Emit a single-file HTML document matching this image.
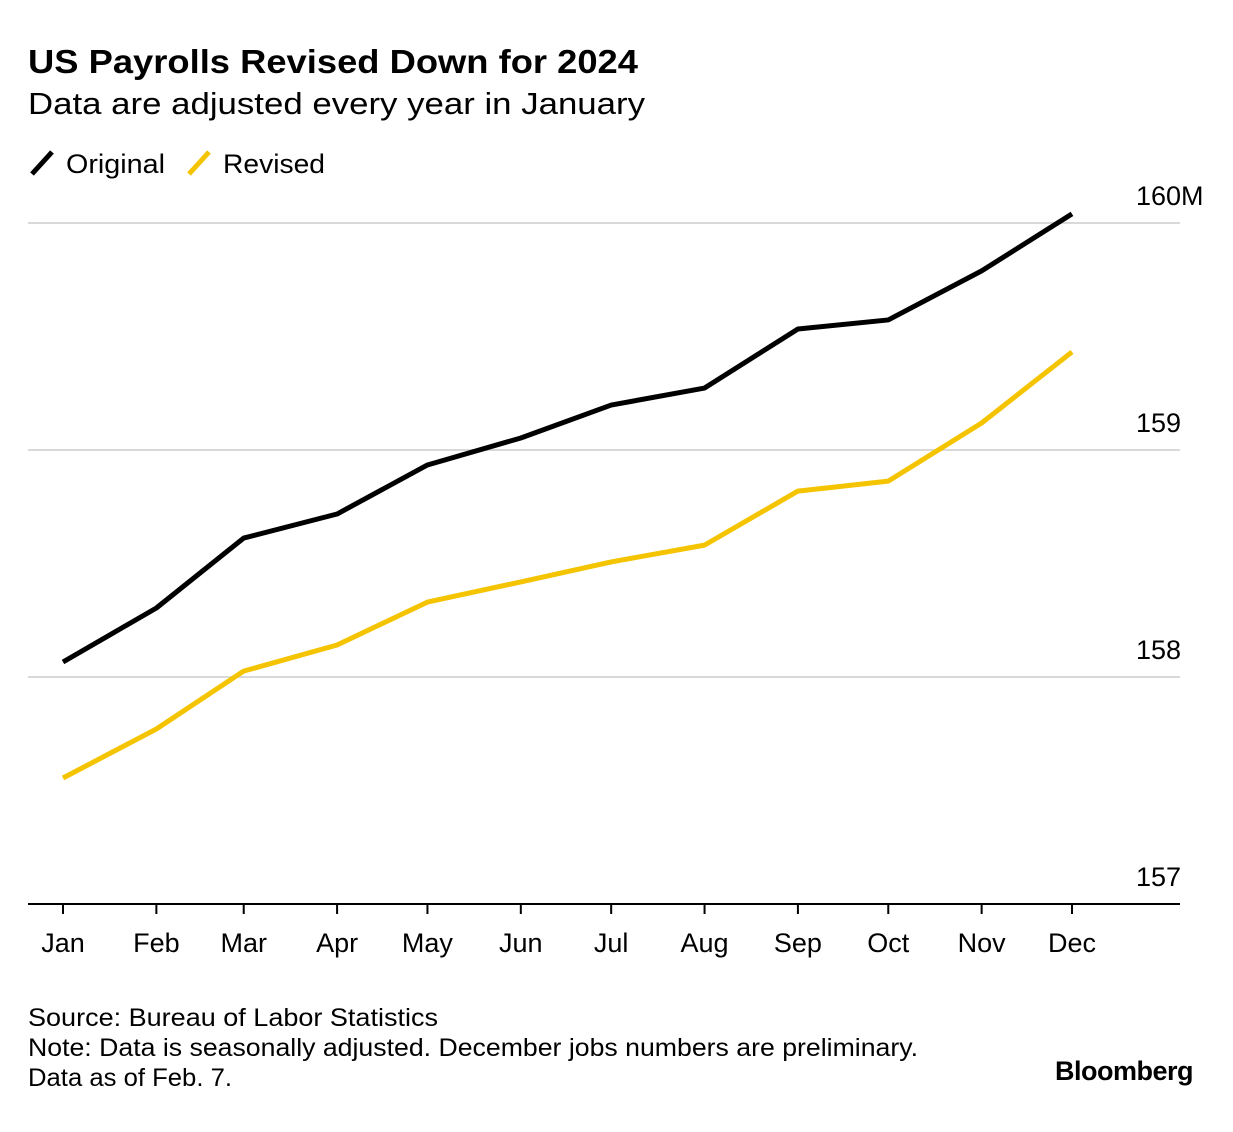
<!DOCTYPE html>
<html><head><meta charset="utf-8">
<style>
body{margin:0;background:#fff;width:1233px;height:1132px;overflow:hidden;font-family:"Liberation Sans",Arial,sans-serif;}
svg{position:absolute;left:0;top:0}
</style></head>
<body>
<svg id="chart" width="1233" height="1132">
<text x="28" y="73" font-size="33" font-weight="bold" fill="#000" textLength="610" lengthAdjust="spacingAndGlyphs">US Payrolls Revised Down for 2024</text>
<text x="28" y="114" font-size="31" fill="#000" textLength="617" lengthAdjust="spacingAndGlyphs">Data are adjusted every year in January</text>
<g>
<line x1="32" y1="174" x2="52" y2="152" stroke="#000" stroke-width="5"/>
<text x="66" y="173" font-size="27" textLength="99" lengthAdjust="spacingAndGlyphs">Original</text>
<line x1="189" y1="174" x2="209" y2="152" stroke="#f5c400" stroke-width="5"/>
<text x="223" y="173" font-size="27" textLength="102" lengthAdjust="spacingAndGlyphs">Revised</text>
</g>
<g id="grid"></g><g id="axis"></g><g id="lines"></g>
<text x="28" y="1026" font-size="25" textLength="410" lengthAdjust="spacingAndGlyphs">Source: Bureau of Labor Statistics</text>
<text x="28" y="1056" font-size="25" textLength="890" lengthAdjust="spacingAndGlyphs">Note: Data is seasonally adjusted. December jobs numbers are preliminary.</text>
<text x="28" y="1086" font-size="25" textLength="204" lengthAdjust="spacingAndGlyphs">Data as of Feb. 7.</text>
<text x="1193" y="1080" font-size="27" font-weight="bold" text-anchor="end" letter-spacing="-0.5">Bloomberg</text>
</svg>
<script>
const months=["Jan","Feb","Mar","Apr","May","Jun","Jul","Aug","Sep","Oct","Nov","Dec"];
const monthDays=[0,31,60,91,121,152,182,213,244,274,305,335];
const original=[158.066,158.304,158.612,158.718,158.934,159.053,159.198,159.273,159.533,159.573,159.789,160.040];
const revised=[157.555,157.771,158.026,158.141,158.330,158.419,158.507,158.581,158.819,158.863,159.119,159.432];
const yTicks=[157,158,159,160];
const yTickLabels=["157","158","159","160M"];
const NS="http://www.w3.org/2000/svg";
const xPos=i=>63+monthDays[i]*(1072-63)/335;
const yPos=v=>904-(v-157)*227;
function mk(tag,attrs,parent){const e=document.createElementNS(NS,tag);for(const k in attrs)e.setAttribute(k,attrs[k]);parent.appendChild(e);return e;}
const grid=document.getElementById('grid'),axis=document.getElementById('axis'),lines=document.getElementById('lines');
yTicks.forEach((t,i)=>{
 const y=yPos(t);
 if(t>157){const l=mk('line',{x1:28,x2:1180,y1:y,y2:y,stroke:'#d9d9d9','stroke-width':2},grid);
 
 }
 const tx=mk('text',{x:1136,y:y-18,'font-size':27},grid);
 tx.textContent=yTickLabels[i];
 
 
});
const ax=mk('line',{x1:28,x2:1180,y1:904,y2:904,stroke:'#000','stroke-width':2},axis);


months.forEach((m,i)=>{
 const x=xPos(i);
 const tk=mk('line',{x1:x,x2:x,y1:904,y2:914,stroke:'#000','stroke-width':2},axis);
 
 
 const t=mk('text',{x:x,y:952,'font-size':27,'text-anchor':'middle'},axis);
 t.textContent=m;
 
 
});
function series(vals,color,name){
 const p=mk('polyline',{points:vals.map((v,i)=>xPos(i)+','+yPos(v)).join(' '),fill:'none',stroke:color,'stroke-width':5,'stroke-linejoin':'round'},lines);
 
 
}
series(revised,'#f5c400','revised-line');
series(original,'#000','original-line');
</script>
</body></html>
